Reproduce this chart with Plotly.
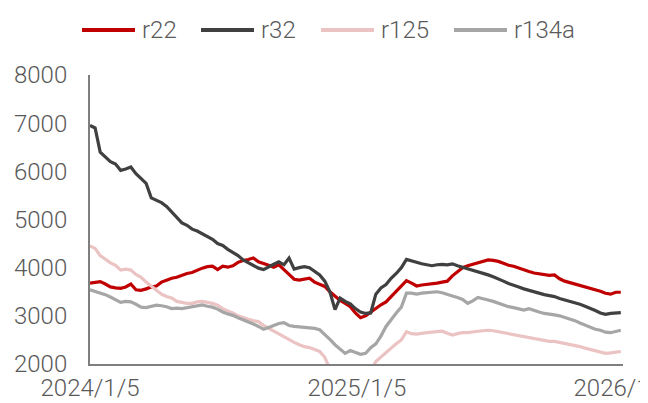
import pandas as pd
import plotly.graph_objects as go

start_date = "2024-01-05"
n_weeks = 105
dates = pd.date_range(start_date, periods=n_weeks, freq="7D")

r22 = [3680, 3700, 3710, 3660, 3600, 3580, 3570, 3600, 3660, 3540,
       3530, 3560, 3600, 3620, 3700, 3740, 3780, 3800, 3840, 3880,
       3900, 3950, 3990, 4020, 4030, 3960, 4030, 4010, 4040, 4110,
       4150, 4170, 4200, 4120, 4090, 4050, 4010, 4060, 3960, 3850,
       3760, 3740, 3760, 3780, 3700, 3660, 3610, 3500, 3400, 3320,
       3260, 3190, 3060, 2960, 3000, 3080, 3160, 3230, 3290, 3400,
       3510, 3620, 3730, 3680, 3620, 3640, 3650, 3660, 3680, 3700,
       3720, 3830, 3920, 4000, 4040, 4070, 4100, 4130, 4160, 4150,
       4130, 4090, 4050, 4030, 3990, 3950, 3920, 3890, 3870, 3850,
       3840, 3850, 3770, 3720, 3690, 3660, 3630, 3600, 3570, 3550,
       3510, 3470, 3450, 3490, 3490]

r32 = [6950, 6900, 6400, 6300, 6200, 6150, 6020, 6050, 6090, 5950,
       5850, 5750, 5450, 5400, 5350, 5270, 5150, 5050, 4930, 4880,
       4800, 4760, 4700, 4650, 4590, 4500, 4460, 4380, 4320, 4250,
       4160, 4100, 4040, 3990, 3960, 4020, 4070, 4120, 4060, 4200,
       3970, 4000, 4020, 4000, 3920, 3850, 3720, 3500, 3130, 3370,
       3300, 3250, 3150, 3080, 3050, 3060, 3450, 3580, 3650, 3780,
       3880, 4000, 4170, 4140, 4100, 4080, 4060, 4040, 4060, 4070,
       4060, 4080, 4040, 4010, 3980, 3950, 3920, 3880, 3850, 3810,
       3770, 3720, 3670, 3640, 3600, 3560, 3530, 3500, 3460, 3440,
       3420, 3400, 3360, 3330, 3300, 3280, 3240, 3200, 3160, 3110,
       3060, 3030, 3050, 3060, 3065]

r125 = [4450, 4400, 4250, 4170, 4100, 4050, 3950, 3970, 3950, 3860,
        3800, 3700, 3620, 3520, 3450, 3400, 3370, 3300, 3280, 3260,
        3260, 3290, 3300, 3280, 3260, 3220, 3150, 3100, 3060, 3000,
        2960, 2930, 2900, 2880, 2800, 2740, 2680, 2620, 2560, 2510,
        2450, 2400, 2360, 2340, 2300, 2260, 2140, 1900, 1650, 1600,
        1550, 1560, 1580, 1600, 1700, 1850, 2050, 2150, 2250, 2330,
        2420, 2500, 2670, 2630, 2620, 2640, 2650, 2660, 2670, 2680,
        2640, 2600, 2630, 2650, 2650, 2670, 2680, 2690, 2700, 2690,
        2670, 2650, 2620, 2600, 2580, 2570, 2550, 2520, 2500, 2490,
        2470, 2470, 2450, 2430, 2410, 2390, 2360, 2330, 2300, 2270,
        2240, 2220, 2230, 2250, 2260]

r134a = [3540, 3510, 3480, 3440, 3390, 3340, 3280, 3300, 3290, 3240,
         3180, 3170, 3200, 3220, 3210, 3190, 3150, 3160, 3150, 3170,
         3200, 3220, 3225, 3200, 3180, 3140, 3080, 3040, 3010, 2960,
         2920, 2880, 2830, 2780, 2720, 2760, 2800, 2840, 2860, 2800,
         2780, 2770, 2770, 2750, 2740, 2710, 2620, 2510, 2400, 2300,
         2220, 2280, 2240, 2200, 2220, 2340, 2420, 2580, 2780, 2930,
         3060, 3180, 3470, 3470, 3450, 3470, 3480, 3490, 3500, 3480,
         3440, 3410, 3380, 3340, 3260, 3310, 3380, 3360, 3330, 3300,
         3260, 3230, 3190, 3170, 3150, 3120, 3150, 3110, 3080, 3050,
         3040, 3020, 3000, 2970, 2940, 2900, 2850, 2810, 2770, 2720,
         2700, 2660, 2650, 2670, 2700]

series_names = ["r22", "r32", "r125", "r134a"]
series_values = [r22, r32, r125, r134a]
series_colors = ["#C00000", "#404040", "#EBC3C3", "#A6A6A6"]

x_tick_dates = ["2024-01-05", "2025-01-05", "2026-01-05"]
x_tick_labels = ["2024/1/5", "2025/1/5", "2026/1/5"]
y_ticks = [2000, 3000, 4000, 5000, 6000, 7000, 8000]

font_family = "Roboto"
text_color = "#595959"

W, H = 640, 395
ML, MR, MT, MB = 82, 25, 67, 39
plot_w = W - ML - MR
plot_h = H - MT - MB

fig = go.Figure()
for name, vals, color in zip(series_names, series_values, series_colors):
    fig.add_trace(go.Scatter(
        x=dates, y=vals, name=name, mode="lines",
        line=dict(color=color, width=3.2),
        showlegend=False,
    ))

# legend drawn as key lines + text labels above the plot
legend_line_px = [74, 193, 313, 446]
legend_len_px = 53
legend_y = 1 + (MT - 22) / plot_h
shapes = []
annotations = []
for name, color, lx in zip(series_names, series_colors, legend_line_px):
    x0 = (lx - ML) / plot_w
    x1 = (lx + legend_len_px - ML) / plot_w
    shapes.append(dict(type="line", xref="paper", yref="paper",
                       x0=x0, x1=x1, y0=legend_y, y1=legend_y,
                       line=dict(color=color, width=4)))
    annotations.append(dict(xref="paper", yref="paper",
                            x=(lx + legend_len_px + 5 - ML) / plot_w,
                            y=legend_y, xanchor="left", yanchor="middle",
                            text=name, showarrow=False,
                            font=dict(family=font_family, size=24,
                                      color=text_color, weight=300)))

fig.update_layout(
    width=W, height=H,
    margin=dict(l=ML, r=MR, t=MT, b=MB),
    paper_bgcolor="white", plot_bgcolor="white",
    font=dict(family=font_family, size=24, color=text_color, weight=300),
    showlegend=False,
    shapes=shapes,
    annotations=annotations,
)

fig.update_xaxes(
    type="date",
    range=["2024-01-05", "2026-01-05"],
    tickvals=x_tick_dates, ticktext=x_tick_labels,
    ticks="outside", ticklen=1, tickcolor="rgba(0,0,0,0)",
    showgrid=False, zeroline=False,
    showline=True, linecolor="#7F7F7F", linewidth=2,
    ticklabeloverflow="allow", automargin=False,
    tickfont=dict(family=font_family, size=24, color=text_color, weight=300),
)
fig.update_yaxes(
    range=[2000, 8000], tickvals=y_ticks,
    ticks="outside", ticklen=16, tickcolor="rgba(0,0,0,0)",
    showgrid=False, zeroline=False,
    showline=True, linecolor="#7F7F7F", linewidth=2,
    automargin=False,
    tickfont=dict(family=font_family, size=24, color=text_color, weight=300),
)

fig.write_html("out.html")
